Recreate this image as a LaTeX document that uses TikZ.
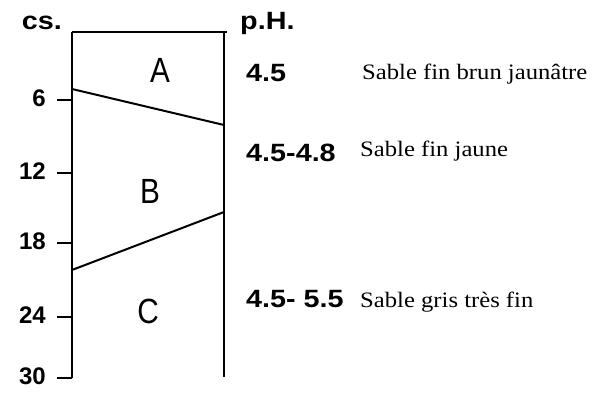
\documentclass[tikz,border=0pt]{standalone}
\usepackage{fontspec}
\setmainfont{Liberation Serif}
\setsansfont{Liberation Sans}
\begin{document}
\begin{tikzpicture}[x=1pt, y=-1pt,
    wall/.style={line width=2.4pt},
    tick/.style={line width=2pt},
    depth/.style={font=\sffamily\bfseries\fontsize{24}{24}\selectfont, anchor=east, inner sep=0pt},
    ph/.style={font=\sffamily\bfseries\fontsize{25}{25}\selectfont, xscale=1.15, anchor=base west, inner sep=0pt},
    soil/.style={font=\fontsize{22}{22}\selectfont, xscale=1.12, anchor=base west, inner sep=0pt},
    horizon/.style={font=\sffamily\fontsize{35}{35}\selectfont, xscale=0.85, inner sep=0pt}
  ]
  \useasboundingbox (0,0) rectangle (592,393);

  % Profile
  \coordinate (tl) at (72,32);
  \coordinate (tr) at (227,32);
  \coordinate (rt) at (224,32);
  \coordinate (bl) at (72,378);
  \coordinate (br) at (224,377);
  \draw[wall] (tl) -- (tr);
  \draw[wall] (tl) -- (bl);
  \draw[wall] (rt) -- (br);

  % Limits between horizons
  \coordinate (ab1) at (72,89);
  \coordinate (ab2) at (224,125);
  \coordinate (bc1) at (72,270);
  \coordinate (bc2) at (224,212);
  \draw[tick] (ab1) -- (ab2);
  \draw[tick] (bc1) -- (bc2);

  % Depth scale
  \node[ph, anchor=base east, xscale=1] (cshead) at (62,30) {cs.};
  \foreach \d/\y in {6/100, 12/173, 18/243, 24/317, 30/378} {
    \coordinate (t\d) at (57,\y);
    \draw[tick] (t\d) -- (72,\y);
    \node[depth] (d\d) at (46,\y-2) {\d};
  }

  % Horizons
  \node[horizon] (hA) at (160,70) {A};
  \node[horizon] (hB) at (150,191) {B};
  \node[horizon] (hC) at (148,311) {C};

  % pH and description
  \node[ph] (phhead) at (240,30) {p.H.};
  \node[ph] (ph1) at (246,82) {4.5};
  \node[ph] (ph2) at (246,162) {4.5-4.8};
  \node[ph] (ph3) at (246,307) {4.5- 5.5};
  \node[soil] (s1) at (362,80) {Sable fin brun jaunâtre};
  \node[soil] (s2) at (360,157) {Sable fin jaune};
  \node[soil] (s3) at (360,307) {Sable gris très fin};
\end{tikzpicture}
\end{document}
